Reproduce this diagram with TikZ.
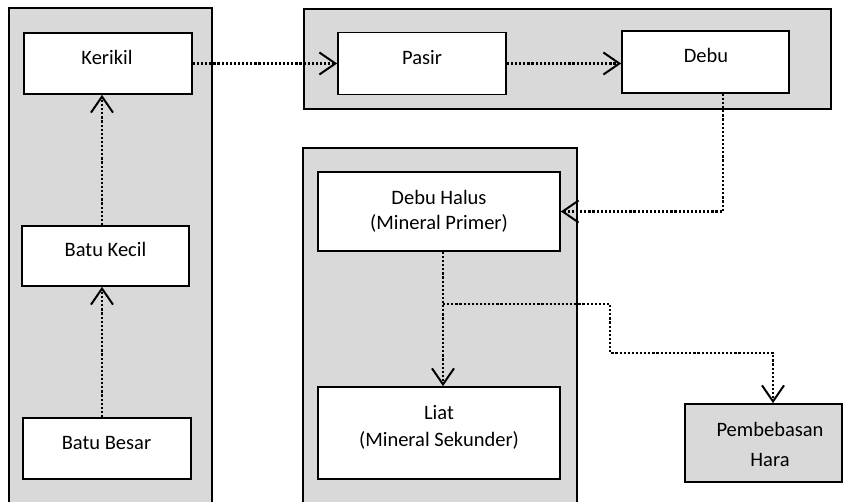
\documentclass[tikz,border=0pt]{standalone}
\usepackage{fontspec}
\setmainfont{Carlito}
\usetikzlibrary{arrows.meta}
\definecolor{panelgray}{HTML}{D9D9D9}
\tikzset{
  panel/.style={draw=black, fill=panelgray, line width=1.5pt, inner sep=0pt},
  box/.style={draw=black, fill=white, line width=1.7pt, inner sep=0pt},
  graybox/.style={draw=black, fill=panelgray, line width=1.7pt, inner sep=0pt},
  txt/.style={inner sep=0pt, anchor=base, font=\fontsize{20.5}{24}\selectfont},
  dotline/.style={line width=2.4pt, dash pattern=on 2.2pt off 1.9pt},
  conn/.style={dotline, -{Straight Barb[length=16pt,width=22pt,line width=2pt]}}
}
\begin{document}
\begin{tikzpicture}[x=1pt,y=-1pt]
\useasboundingbox (0,0) rectangle (843,502);
% panels
\node[panel, minimum width=203pt, minimum height=507pt] (pleft) at (110.5,261.5) {};
\node[panel, minimum width=527pt, minimum height=100pt] (ptop) at (567.5,59) {};
\node[panel, minimum width=274pt, minimum height=367pt] (pmid) at (440,331.5) {};
% boxes
\node[box, minimum width=168pt, minimum height=61pt] (kerikil) at (108,63.5) {};
\node[box, minimum width=167pt, minimum height=60pt] (kecil) at (105.5,256) {};
\node[box, minimum width=168pt, minimum height=61pt] (besar) at (107,448.5) {};
\node[box, minimum width=168pt, minimum height=62pt] (pasir) at (422,63.5) {};
\node[box, minimum width=167pt, minimum height=62pt] (debu) at (705.5,62) {};
\node[box, minimum width=242pt, minimum height=79pt] (dhalus) at (439,211.5) {};
\node[box, minimum width=242pt, minimum height=92pt] (liat) at (439,433) {};
\node[graybox, minimum width=157pt, minimum height=78pt] (hara) at (763.5,443) {};
% texts
\node[txt] (tkerikil) at (107,65) {Kerikil};
\node[txt] (tkecil) at (105.5,257) {Batu Kecil};
\node[txt] (tbesar) at (106.5,449) {Batu Besar};
\node[txt] (tpasir) at (422,65) {Pasir};
\node[txt] (tdebu) at (706,63) {Debu};
\node[txt] (tdh1) at (439,205) {Debu Halus};
\node[txt] (tdh2) at (439,230) {(Mineral Primer)};
\node[txt] (tl1) at (439,419) {Liat};
\node[txt] (tl2) at (439,446) {(Mineral Sekunder)};
\node[txt] (th1) at (770,436) {Pembebasan};
\node[txt] (th2) at (770,466) {Hara};
% connectors
\draw[conn] ([xshift=-5pt]besar.north) -- ([xshift=-5pt]besar.north |- kecil.south);
\draw[conn] ([xshift=-3.5pt]kecil.north) -- ([xshift=-3.5pt]kecil.north |- kerikil.south);
\draw[conn] (kerikil.east) -- (kerikil.east -| pasir.west);
\draw[conn] (pasir.east) -- (pasir.east -| debu.west);
\draw[conn] ([xshift=17.5pt]debu.south) |- (dhalus.east);
\draw[conn] ([xshift=4pt]dhalus.south) -- ([xshift=4pt]liat.north);
\coordinate (split) at (443,304);
\coordinate (bend) at (610,353);
\draw[conn] (split) -| (bend) -| ([xshift=9.5pt]hara.north);
\end{tikzpicture}
\end{document}
